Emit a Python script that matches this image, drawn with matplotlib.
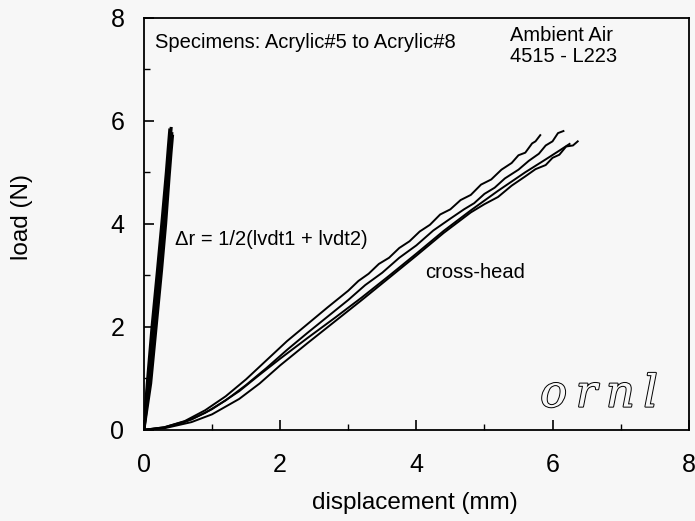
import matplotlib.pyplot as plt
import matplotlib.patheffects as pe

plt.rcParams['font.family'] = ['Liberation Sans', 'DejaVu Sans']

# lvdt-based displacement curves (four specimens, steep bundle)
lvdt_x = [
    [0, 0.05, 0.12, 0.20, 0.27, 0.33, 0.36, 0.38],
    [0, 0.08, 0.16, 0.24, 0.31, 0.36, 0.39, 0.41],
    [0, 0.06, 0.14, 0.22, 0.29, 0.34, 0.38, 0.40],
    [0, 0.10, 0.18, 0.26, 0.32, 0.37, 0.40, 0.42],
]
lvdt_y = [
    [0, 0.9, 2.0, 3.1, 4.1, 5.0, 5.5, 5.82],
    [0, 0.9, 2.0, 3.1, 4.1, 5.0, 5.5, 5.75],
    [0, 0.9, 2.0, 3.0, 4.0, 4.9, 5.5, 5.85],
    [0, 0.9, 2.0, 3.1, 4.0, 4.9, 5.4, 5.70],
]

# cross-head displacement curves
ch_x = [
    [0, 0.3, 0.6, 0.9, 1.2, 1.5, 1.8, 2.1, 2.4, 2.7, 3.0, 3.15, 3.3, 3.45, 3.6, 3.75, 3.9,
     4.05, 4.2, 4.35, 4.5, 4.65, 4.8, 4.95, 5.1, 5.25, 5.4, 5.5, 5.6, 5.7, 5.75, 5.82],
    [0, 0.3, 0.6, 0.9, 1.2, 1.5, 1.8, 2.1, 2.4, 2.7, 3.0, 3.25, 3.5, 3.75, 4.0, 4.25, 4.5,
     4.7, 4.85, 5.0, 5.15, 5.3, 5.5, 5.65, 5.8, 5.9, 6.0, 6.08, 6.16],
    [0, 0.3, 0.7, 1.0, 1.4, 1.7, 2.0, 2.4, 2.8, 3.2, 3.6, 4.0, 4.4, 4.8,
     5.0, 5.2, 5.4, 5.6, 5.75, 5.9, 6.0, 6.1, 6.2, 6.3, 6.37],
    [0, 0.3, 0.7, 1.0, 1.4, 1.7, 2.0, 2.4, 2.8, 3.2, 3.6, 4.0, 4.4, 4.8,
     5.2, 5.6, 5.9, 6.1, 6.25],
]
ch_y = [
    [0, 0.05, 0.17, 0.38, 0.65, 0.98, 1.35, 1.72, 2.05, 2.38, 2.70, 2.89, 3.03, 3.22, 3.34, 3.53, 3.66,
     3.85, 3.98, 4.18, 4.28, 4.46, 4.56, 4.76, 4.86, 5.05, 5.18, 5.33, 5.38, 5.56, 5.60, 5.72],
    [0, 0.04, 0.15, 0.33, 0.57, 0.87, 1.20, 1.55, 1.88, 2.20, 2.52, 2.81, 3.05, 3.34, 3.58, 3.87, 4.10,
     4.28, 4.40, 4.58, 4.70, 4.88, 5.05, 5.22, 5.36, 5.52, 5.60, 5.76, 5.80],
    [0, 0.03, 0.15, 0.30, 0.60, 0.90, 1.25, 1.68, 2.10, 2.52, 2.95, 3.38, 3.82, 4.22,
     4.38, 4.52, 4.74, 4.92, 5.06, 5.14, 5.28, 5.34, 5.50, 5.52, 5.60],
    [0, 0.05, 0.20, 0.40, 0.75, 1.07, 1.38, 1.78, 2.17, 2.57, 2.99, 3.42, 3.86, 4.26,
     4.64, 5.00, 5.25, 5.42, 5.55],
]

bg = '#f7f7f7'
fig = plt.figure(figsize=(6.95, 5.21), dpi=100, facecolor=bg)
ax = fig.add_axes([0.207, 0.175, 0.784, 0.791], facecolor=bg)

for xs, ys in zip(lvdt_x, lvdt_y):
    ax.plot(xs, ys, color='black', lw=2.2)
for xs, ys in zip(ch_x, ch_y):
    ax.plot(xs, ys, color='black', lw=1.4)

ax.set_xlim(0, 8)
ax.set_ylim(0, 8)
ax.set_xticks([0, 2, 4, 6, 8])
ax.set_yticks([0, 2, 4, 6, 8])
ax.set_xticks(range(0, 9), minor=True)
ax.set_yticks(range(0, 9), minor=True)
ax.tick_params(which='both', direction='in', top=False, right=False, labelsize=18)
ax.tick_params(axis='x', which='major', length=7, width=1.2, pad=17)
ax.tick_params(axis='y', which='major', length=7, width=1.2, pad=14)
ax.tick_params(which='minor', length=4, width=1.0)
for s in ax.spines.values():
    s.set_linewidth(1.3)

fig.text(0.597, 0.035, 'displacement (mm)', ha='center', va='center', fontsize=17.5)
fig.text(0.032, 0.583, 'load (N)', ha='center', va='center', rotation=90, fontsize=17.5)

ax.text(0.16, 7.51, 'Specimens: Acrylic#5 to Acrylic#8', fontsize=14.5, va='center')
ax.text(5.38, 7.65, 'Ambient Air', fontsize=14.5, va='center')
ax.text(5.38, 7.24, '4515 - L223', fontsize=14.5, va='center')
ax.text(0.46, 3.69, '\u0394r = 1/2(lvdt1 + lvdt2)', fontsize=14.5, va='center')
ax.text(4.13, 3.05, 'cross-head', fontsize=14.5, va='center')

# outlined italic logo
ax.text(5.82, 0.45, 'o\u2009r\u2009n\u2009l', fontsize=32, family='DejaVu Serif',
        style='italic', color=bg, va='baseline',
        path_effects=[pe.withStroke(linewidth=1.4, foreground='black')])

fig.savefig('out.png', dpi=100, facecolor=bg)
